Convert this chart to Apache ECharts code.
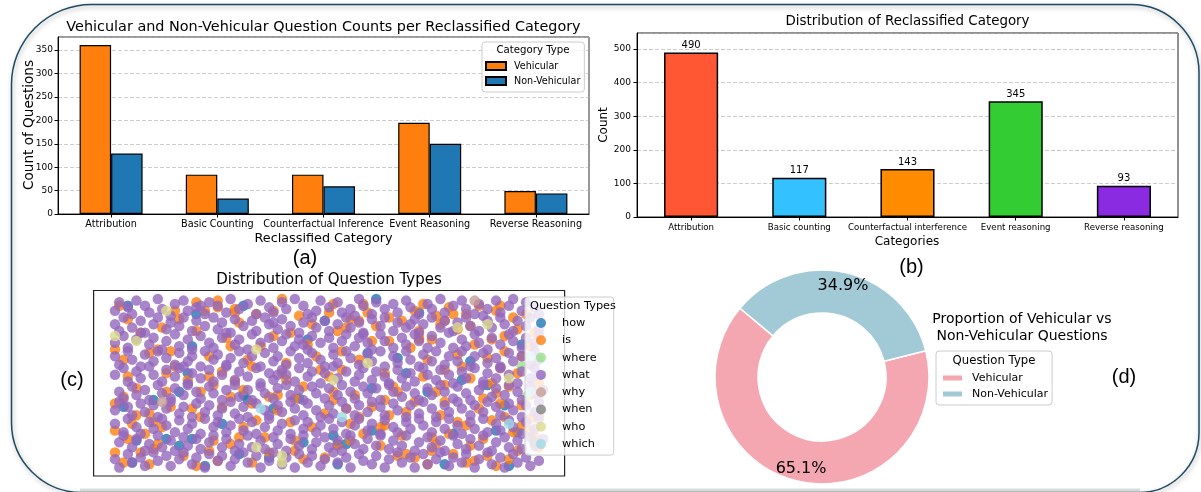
<!DOCTYPE html>
<html><head><meta charset="utf-8">
<script src="https://cdn.jsdelivr.net/npm/echarts@6/dist/echarts.min.js"></script>
<style>html,body{margin:0;padding:0;background:#fff}#c{width:1201px;height:492px}</style>
</head><body><div id="c"></div>
<script>
// ---------- DATA ----------
const catsA = ['Attribution', 'Basic Counting', 'Counterfactual Inference', 'Event Reasoning', 'Reverse Reasoning'];
const vehicular = [361, 84, 84, 195, 49];
const nonVehicular = [129, 33, 59, 150, 44];

const catsB = ['Attribution', 'Basic counting', 'Counterfactual interference', 'Event reasoning', 'Reverse reasoning'];
const countsB = [490, 117, 143, 345, 93];

const pieNames = ['Vehicular', 'Non-Vehicular'];
const pieValues = [773, 415];

const qTypes = ['how', 'is', 'where', 'what', 'why', 'when', 'who', 'which'];

const howPts = [[3,96],[30,96],[19,91],[18,72],[17,56],[15,45],[2,36],[9,40],[4,3],[5,16],[12,17],[15,13],[18,17],[21,1],[25,26],[30,43],[31,40],[29,8],[36,6],[37,35],[44,15],[43,41],[49,87],[45,76],[51,19],[52,14],[54,14],[52,2],[59,68],[60,47],[60,22],[61,100],[66,65],[68,56],[71,92],[73,45],[77,2],[79,20],[83,63],[81,52],[87,49],[89,22],[91,37],[94,21],[95,73],[92,1]];

const isPts = [[1,96],[19,98],[24,99],[24,95],[28,94],[28,92],[39,100],[37,93],[50,92],[52,81],[54,83],[55,88],[57,87],[59,92],[72,97],[71,77],[71,76],[75,90],[77,87],[79,91],[82,91],[83,84],[89,93],[90,96],[93,89],[0,70],[11,83],[10,70],[13,69],[8,68],[3,54],[0,38],[2,42],[4,26],[8,32],[9,27],[11,24],[0,22],[3,17],[7,20],[0,9],[2,3],[8,2],[6,9],[9,11],[14,60],[18,35],[19,81],[22,54],[23,49],[22,66],[25,57],[27,42],[28,51],[31,64],[32,60],[32,38],[30,24],[33,28],[38,43],[36,42],[38,34],[40,52],[42,41],[42,16],[42,10],[32,3],[27,14],[23,16],[22,10],[19,1],[49,32],[49,6],[51,45],[51,40],[50,54],[55,16],[57,30],[57,64],[62,24],[63,25],[64,75],[64,31],[63,56],[66,7],[68,8],[70,6],[74,18],[75,14],[74,10],[77,58],[77,49],[80,67],[80,27],[82,3],[82,25],[85,35],[87,65],[88,28],[89,44],[88,50],[89,1],[91,30],[92,48],[94,10],[95,66],[94,82],[98,80],[97,72],[97,29],[97,22],[98,18],[71,81],[76,85],[77,39],
[5,47],[12,45],[15,88],[17,52],[20,30],[26,77],[29,86],[34,72],[35,18],[40,62],[43,90],[45,73],[46,24],[48,58],[52,13],[53,69],[56,43],[58,97],[60,36],[61,84],[65,48],[67,19],[69,71],[70,39],[72,54],[73,2],[76,31],[78,95],[81,60],[83,13],[84,73],[86,41],[87,7],[90,59],[91,78],[93,21],[95,37],[96,91],[99,50],[99,12],[2,64],[6,80],[10,14],[13,36],[16,7],[21,93],[25,36],[27,72],[30,46],[33,91],[36,9],[39,56],[41,27],[44,5],[46,85],[47,66],[51,97],[54,35],[58,20],[60,75],[62,13],[64,89],[66,45],[68,33],[70,93],[73,64],[75,45],[78,20],[80,82],[83,53],[85,96],[86,17],[88,76],[90,38],[92,5],[94,56],[97,43],[99,31],[5,31],[14,93],[24,4],[37,78],[44,48],[55,26],[67,87],[79,8],[91,69],[3,88],[12,56],[20,45],[29,18],[41,80],[53,58],[63,40],[74,76],[84,4],[95,25]];

const wherePts = [[96,42],[95,60]];

const whatPts = [
[0,93],[1,98],[3,95],[4,91],[5,99],[7,96],[8,92],[10,100],[11,94],[13,90],[14,97],[16,99],[17,93],[19,95],[21,91],[22,98],[24,96],[26,92],[27,100],[29,94],[31,97],[33,91],[34,99],[36,95],[37,92],[39,98],[40,94],[42,100],[44,96],[45,91],[47,93],[48,99],[50,95],[52,98],[53,92],[55,94],[57,100],[58,96],[60,91],[61,98],[63,94],[65,97],[66,92],[68,99],[69,95],[71,91],[73,97],[74,94],[76,100],[77,92],[79,96],[81,99],[82,94],[84,91],[85,97],[87,94],[89,99],[90,92],[92,96],[93,100],[95,93],[96,98],[98,95],[99,91],[20,96],[56,90],[86,90],
[0,85],[1,81],[2,89],[4,83],[6,87],[7,80],[9,85],[10,89],[12,82],[13,86],[15,84],[16,89],[18,81],[19,87],[21,84],[23,89],[24,82],[25,86],[27,80],[28,88],[30,84],[32,87],[33,81],[35,89],[36,85],[38,82],[39,88],[41,84],[43,80],[44,86],[46,89],[47,83],[49,87],[50,81],[52,85],[54,89],[55,83],[57,86],[58,80],[60,88],[62,84],[63,89],[65,81],[66,86],[68,83],[70,88],[71,80],[72,85],[74,89],[76,83],[77,87],[79,81],[80,86],[82,89],[83,84],[85,81],[87,87],[88,83],[90,89],[91,85],[93,81],[94,87],[96,84],[97,89],[99,82],[37,86],[69,85],
[0,74],[2,78],[3,71],[5,76],[6,80],[8,73],[9,77],[11,70],[12,75],[14,79],[15,72],[17,76],[18,70],[20,78],[22,74],[23,71],[25,77],[26,80],[28,73],[29,76],[31,70],[32,79],[34,74],[36,77],[37,71],[39,75],[40,79],[42,72],[43,76],[45,70],[46,78],[48,74],[50,77],[51,71],[53,75],[54,79],[56,72],[57,77],[59,74],[60,70],[62,79],[63,75],[65,71],[67,77],[68,73],[70,79],[71,75],[73,71],[74,78],[76,74],[78,80],[79,71],[81,76],[82,72],[84,79],[85,74],[87,70],[88,77],[90,73],[92,79],[93,75],[95,71],[96,77],[98,74],[99,79],[44,73],[58,79],
[0,66],[1,61],[3,69],[4,64],[6,60],[7,67],[9,63],[10,69],[12,65],[14,61],[15,68],[17,63],[18,66],[20,60],[21,69],[23,64],[24,67],[26,61],[27,65],[29,69],[30,62],[32,66],[34,60],[35,68],[37,63],[38,66],[40,61],[41,69],[43,65],[45,62],[46,68],[48,64],[49,60],[51,67],[52,62],[54,69],[55,65],[57,61],[59,67],[60,63],[62,69],[63,60],[65,66],[66,62],[68,69],[69,64],[71,60],[72,67],[74,63],[75,69],[77,61],[78,66],[80,63],[81,69],[83,60],[84,66],[86,68],[87,62],[89,65],[90,60],[92,68],[93,63],[95,66],[97,61],[98,69],[99,64],[16,60],
[0,55],[2,59],[3,51],[5,57],[6,53],[8,60],[9,55],[11,51],[12,58],[14,54],[15,59],[17,50],[18,56],[20,53],[22,58],[23,51],[25,55],[26,60],[28,52],[29,57],[31,54],[33,59],[34,50],[36,56],[37,52],[39,58],[40,55],[42,51],[43,59],[45,54],[46,57],[48,50],[49,56],[51,60],[52,53],[54,57],[56,51],[57,55],[58,59],[60,52],[61,57],[63,54],[64,50],[66,58],[67,53],[69,56],[70,51],[72,59],[73,55],[75,52],[76,58],[78,55],[79,50],[81,57],[82,53],[84,59],[86,51],[87,56],[89,53],[90,59],[92,55],[94,50],[95,57],[97,53],[98,59],[99,55],[38,55],
[1,45],[2,41],[4,48],[5,43],[7,46],[8,40],[10,49],[11,44],[13,41],[14,47],[16,43],[17,49],[19,45],[20,41],[22,48],[23,44],[25,40],[26,46],[28,49],[29,42],[31,46],[32,40],[34,48],[35,44],[37,41],[38,47],[40,49],[41,43],[43,46],[44,40],[46,48],[47,44],[49,41],[50,47],[52,43],[53,49],[55,45],[56,41],[58,48],[59,44],[61,47],[62,40],[64,49],[65,45],[67,42],[68,48],[70,44],[71,40],[73,47],[74,43],[76,49],[77,45],[79,41],[80,48],[82,44],[83,40],[85,46],[86,49],[88,42],[89,47],[91,43],[92,49],[94,45],[95,40],[97,48],[98,44],[100,46],
[0,34],[1,39],[3,36],[4,31],[6,38],[7,33],[9,37],[10,30],[12,35],[13,39],[15,32],[16,36],[18,30],[19,38],[21,33],[22,37],[24,31],[25,35],[27,39],[28,32],[30,36],[31,30],[33,38],[35,34],[36,31],[38,37],[39,33],[41,39],[42,35],[44,31],[45,38],[47,34],[48,30],[50,37],[51,32],[53,39],[54,35],[56,31],[57,37],[59,33],[60,39],[62,36],[63,31],[65,38],[66,34],[68,30],[69,37],[71,32],[72,39],[74,35],[75,30],[77,37],[78,33],[80,39],[81,35],[83,31],[84,37],[86,33],[87,39],[89,36],[90,31],[92,38],[93,34],[95,30],[96,37],[98,33],[99,39],
[0,26],[2,21],[3,29],[5,24],[6,20],[8,27],[9,23],[11,29],[12,25],[14,21],[15,28],[17,23],[18,26],[20,20],[21,29],[23,24],[24,27],[26,21],[27,25],[29,29],[30,22],[32,27],[33,20],[35,24],[36,29],[38,22],[39,26],[41,20],[42,28],[44,23],[45,27],[47,21],[48,25],[50,29],[51,23],[53,27],[54,20],[56,25],[57,29],[59,22],[60,26],[62,20],[63,28],[65,24],[66,21],[68,27],[69,23],[71,29],[72,25],[74,21],[75,27],[77,23],[78,29],[80,25],[81,20],[83,27],[84,23],[86,29],[87,21],[89,26],[90,22],[92,28],[93,24],[95,20],[96,27],[98,23],[99,29],
[1,15],[2,19],[4,12],[5,17],[7,10],[8,14],[10,19],[11,12],[13,16],[14,10],[16,18],[17,13],[19,17],[20,11],[22,15],[23,19],[25,12],[26,17],[28,10],[29,14],[31,19],[32,12],[34,16],[35,11],[37,18],[38,14],[40,10],[41,17],[43,13],[44,19],[46,11],[47,15],[49,18],[50,12],[52,16],[53,10],[55,19],[56,14],[58,11],[59,17],[61,13],[62,19],[64,11],[65,16],[67,13],[68,19],[70,10],[71,15],[73,18],[74,12],[76,16],[77,10],[79,19],[80,14],[82,11],[83,17],[85,13],[86,19],[88,10],[89,15],[91,18],[92,12],[94,16],[95,11],[97,18],[98,13],[100,17],
[0,5],[1,0],[3,8],[4,3],[6,6],[7,1],[9,9],[10,4],[12,7],[13,1],[15,5],[16,9],[18,2],[19,6],[21,0],[22,8],[24,4],[25,7],[27,1],[28,5],[30,9],[31,3],[33,7],[34,0],[36,4],[37,9],[39,2],[40,6],[42,0],[43,8],[45,3],[46,7],[48,1],[49,5],[51,9],[52,3],[54,6],[55,0],[57,8],[58,4],[60,2],[61,7],[63,0],[64,5],[66,9],[67,3],[69,6],[70,0],[72,8],[73,2],[75,5],[76,9],[78,1],[79,6],[81,3],[82,8],[84,0],[85,5],[87,9],[88,2],[90,6],[91,0],[93,8],[94,3],[96,6],[97,1],[99,4]];

const whyPts = [[84,99],[11,39]];
const whenPts = [[98,15]];
const whoPts = [[0,78],[5,75],[12,93],[33,70],[51,52],[59,62],[80,83],[87,85],[92,53],[33,12],[39,7],[39,3]];
const whichPts = [[34,35],[53,30],[92,26],[97,66],[97,45]];

// ---------- STYLE ----------
const FONT = 'DejaVu Sans';
const colorsB = ['#FF5733', '#33C1FF', '#FF8C00', '#33CC33', '#8A2BE2'];
const qColors = ['#1f77b4', '#ff7f0e', '#98df8a', '#9467bd', '#c49c94', '#7f7f7f', '#dbdb8d', '#9edae5'];
const qData = [howPts, isPts, wherePts, whatPts, whyPts, whenPts, whoPts, whichPts];
const pieColors = ['#F4A7B1', '#A2C9D6'];

function txt(text, x, y, size, o) {
  o = o || {};
  return {
    type: 'text', x: x, y: y, rotation: o.rot || 0, z: 100,
    style: {
      text: text, fill: '#000', fontSize: size, fontFamily: o.family || FONT,
      align: o.align || 'center', verticalAlign: 'middle',
      textAlign: o.align || 'center', textVerticalAlign: 'middle'
    }
  };
}

const chart = echarts.init(document.getElementById('c'), null, { renderer: 'canvas' });

const gridLine = { show: true, lineStyle: { color: '#b0b0b0', type: [4, 2], width: 0.8, opacity: 0.8 } };
const axisLineBlk = { show: true, lineStyle: { color: '#000', width: 1 } };

const scatterSeries = qTypes.map((t, i) => ({
  type: 'scatter', name: t, xAxisIndex: 2, yAxisIndex: 2,
  data: qData[i], symbolSize: 10.5,
  itemStyle: { color: qColors[i], opacity: 0.8 },
  emphasis: { disabled: true }, silent: true
}));

const option = {
  animation: false,
  backgroundColor: '#fff',
  textStyle: { fontFamily: FONT },
  grid: [
    { left: 58, top: 37, width: 531, height: 177, show: true, borderColor: '#333', borderWidth: 1, backgroundColor: 'transparent', outerBoundsMode: 'none', containLabel: false },
    { left: 637, top: 33, width: 541, height: 184, show: true, borderColor: '#222', borderWidth: 1, backgroundColor: 'transparent', outerBoundsMode: 'none', containLabel: false },
    { left: 93.6, top: 290.5, width: 471, height: 185.5, show: true, borderColor: '#222', borderWidth: 1.2, backgroundColor: 'transparent', outerBoundsMode: 'none', containLabel: false }
  ],
  xAxis: [
    { gridIndex: 0, type: 'category', data: catsA, boundaryGap: true, axisLine: axisLineBlk,
      axisTick: { show: true, alignWithLabel: true, length: 3.5, lineStyle: { color: '#000' } },
      axisLabel: { interval: 0, fontSize: 9.7, color: '#000', margin: 5, fontFamily: FONT }, splitLine: { show: false } },
    { gridIndex: 1, type: 'category', data: catsB, boundaryGap: true, axisLine: axisLineBlk,
      axisTick: { show: true, alignWithLabel: true, length: 3.5, lineStyle: { color: '#000' } },
      axisLabel: { interval: 0, fontSize: 8.6, color: '#000', margin: 6, fontFamily: FONT }, splitLine: { show: false } },
    { gridIndex: 2, type: 'value', min: -5, max: 105, show: false }
  ],
  yAxis: [
    { gridIndex: 0, type: 'value', min: 0, max: 378, interval: 50, axisLine: axisLineBlk,
      axisTick: { show: true, length: 3.5, lineStyle: { color: '#000' } },
      axisLabel: { fontSize: 9, color: '#000', margin: 5, fontFamily: FONT, showMaxLabel: false,
        formatter: v => (v % 50 === 0 ? String(v) : '') },
      splitLine: gridLine },
    { gridIndex: 1, type: 'value', min: 0, max: 548, interval: 100, axisLine: axisLineBlk,
      axisTick: { show: true, length: 3.5, lineStyle: { color: '#000' } },
      axisLabel: { fontSize: 9, color: '#000', margin: 6, fontFamily: FONT, showMaxLabel: false,
        formatter: v => (v % 100 === 0 ? String(v) : '') },
      splitLine: gridLine },
    { gridIndex: 2, type: 'value', min: -5, max: 105, show: false }
  ],
  legend: [
    { data: ['Vehicular', 'Non-Vehicular'], orient: 'vertical', left: 482, top: 42,
      itemWidth: 20, itemHeight: 8, itemGap: 3, padding: [18, 4, 5, 3],
      backgroundColor: 'rgba(255,255,255,0.8)', borderColor: '#cccccc', borderWidth: 1, borderRadius: 3,
      textStyle: { fontSize: 9.6, color: '#000', lineHeight: 12, fontFamily: FONT, padding: [0, 0, 0, 3] },
      icon: 'rect', selectedMode: false },
    { data: qTypes, orient: 'vertical', left: 525, top: 297,
      itemWidth: 32, itemHeight: 10, itemGap: 4.3, padding: [19.5, 17, 4.5, 11],
      backgroundColor: 'rgba(255,255,255,0.8)', borderColor: '#cccccc', borderWidth: 1, borderRadius: 3,
      textStyle: { fontSize: 11.3, color: '#000', lineHeight: 13, fontFamily: FONT },
      icon: 'circle', selectedMode: false },
    { data: pieNames.map(n => 'd:' + n), orient: 'vertical', left: 936, top: 351,
      itemWidth: 21, itemHeight: 7, itemGap: 3, padding: [20.5, 4, 4.5, 5],
      backgroundColor: 'rgba(255,255,255,0.8)', borderColor: '#cccccc', borderWidth: 1, borderRadius: 3,
      textStyle: { fontSize: 11, color: '#000', lineHeight: 13, fontFamily: FONT, padding: [0, 0, 0, 4] },
      formatter: n => n.slice(2), icon: 'rect', selectedMode: false }
  ],
  series: [
    { type: 'bar', name: 'Vehicular', xAxisIndex: 0, yAxisIndex: 0, data: vehicular,
      barWidth: 31.5, barGap: '0%', itemStyle: { color: '#ff7f0e', borderColor: '#000', borderWidth: 1.2 }, silent: true },
    { type: 'bar', name: 'Non-Vehicular', xAxisIndex: 0, yAxisIndex: 0, data: nonVehicular,
      barWidth: 31.5, barGap: '0%', itemStyle: { color: '#1f77b4', borderColor: '#000', borderWidth: 1.2 }, silent: true },
    { type: 'bar', name: 'Count', xAxisIndex: 1, yAxisIndex: 1,
      data: countsB.map((v, i) => ({ value: v, itemStyle: { color: colorsB[i] } })),
      barWidth: '50%', itemStyle: { borderColor: '#000', borderWidth: 1.5 }, silent: true,
      label: { show: true, position: 'top', distance: 2, fontSize: 10, color: '#000', fontFamily: FONT } },
    ...scatterSeries,
    { type: 'pie', name: 'pieMain', center: [822, 377], radius: [64, 107], startAngle: 140, clockwise: false,
      data: pieNames.map((n, i) => ({ name: 'd:' + n, value: pieValues[i], itemStyle: { color: pieColors[i] } })),
      itemStyle: { borderColor: '#fff', borderWidth: 1.5 }, label: { show: false }, labelLine: { show: false },
      silent: true, emphasis: { disabled: true } },
    { type: 'pie', name: 'pieLabels', center: [822, 377], radius: [0, 182], startAngle: 140, clockwise: false,
      data: pieNames.map((n, i) => ({ name: 'd:' + n, value: pieValues[i] })),
      itemStyle: { color: 'rgba(0,0,0,0)', borderWidth: 0 },
      label: { show: true, position: 'inside', fontSize: 16, color: '#000', fontFamily: FONT,
        formatter: p => p.percent.toFixed(1) + '%' },
      labelLine: { show: false }, silent: true, emphasis: { disabled: true }, z: 5 }
  ],
  graphic: [
    { type: 'rect', z: 50, silent: true,
      shape: { x: 11.5, y: 4.5, width: 1187.5, height: 488, r: [80, 68, 60, 70] },
      style: { fill: 'none', stroke: '#1d4a63', lineWidth: 1.5, shadowBlur: 5, shadowColor: 'rgba(0,0,0,0.35)', shadowOffsetX: 1, shadowOffsetY: 2 } },
    { type: 'line', z: 49, silent: true, shape: { x1: 80, y1: 490, x2: 1140, y2: 490 },
      style: { stroke: '#dddddd', lineWidth: 3 } },
    txt('Vehicular and Non-Vehicular Question Counts per Reclassified Category', 323.5, 27, 14.4),
    txt('Count of Questions', 29.5, 125, 13.6, { rot: Math.PI / 2 }),
    txt('Reclassified Category', 323.5, 239, 12.8),
    txt('(a)', 305, 258, 20, { family: 'Liberation Sans' }),
    txt('Category Type', 533, 50, 10.2),
    txt('Distribution of Reclassified Category', 907.5, 22, 13.4),
    txt('Count', 604, 125, 12, { rot: Math.PI / 2 }),
    txt('Categories', 907, 242, 12),
    txt('(b)', 911.5, 267, 20, { family: 'Liberation Sans' }),
    txt('Distribution of Question Types', 329, 280, 15),
    txt('(c)', 72, 380, 20, { family: 'Liberation Sans' }),
    txt('Question Types', 530, 306, 11.3, { align: 'left' }),
    txt('Proportion of Vehicular vs', 1022, 319, 14),
    txt('Non-Vehicular Questions', 1022, 336, 14),
    txt('Question Type', 994, 361, 11.7),
    txt('(d)', 1124, 377, 20, { family: 'Liberation Sans' })
  ]
};
chart.setOption(option);
</script></body></html>
